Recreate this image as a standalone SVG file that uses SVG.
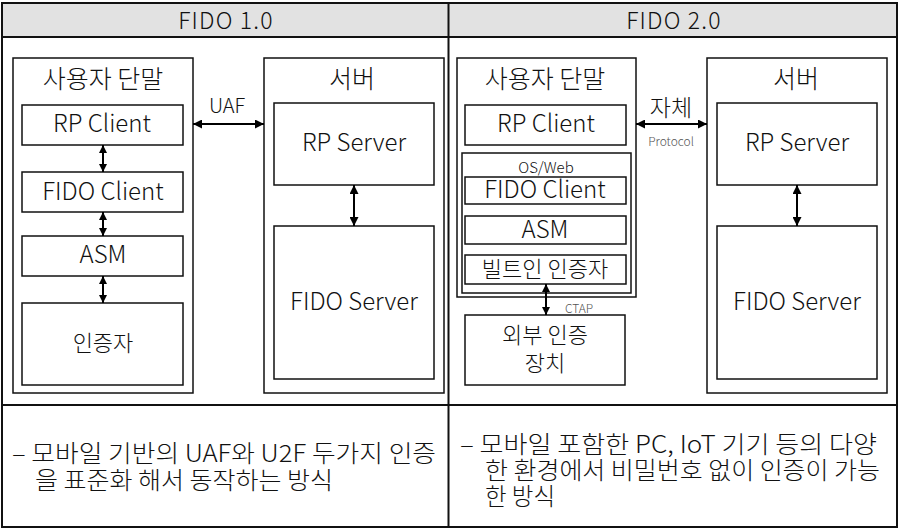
<svg xmlns="http://www.w3.org/2000/svg" width="902" height="530" viewBox="0 0 902 530">
<style>
text{font-family:"Noto Sans CJK KR","Noto Sans",sans-serif;font-weight:300;fill:#111;}
.c{text-anchor:middle;}
.t{font-size:25px;}
.l{font-size:22px;}
.e{font-size:24px;}
.h{font-size:23px;letter-spacing:1.2px;}
.s{font-size:12px;fill:#555;}
.b{font-size:24px;}
.tbl{fill:none;stroke:#111;stroke-width:2;}
.box{fill:#fff;stroke:#111;stroke-width:1.5;}
.ar{stroke:#000;stroke-width:2;fill:none;marker-start:url(#ah);marker-end:url(#ah);}
.ars{stroke:#000;stroke-width:2;fill:none;marker-start:url(#ahs);marker-end:url(#ahs);}
</style>
<defs>
<marker id="ah" viewBox="0 0 10 10" refX="10" refY="5" markerUnits="userSpaceOnUse" markerWidth="10" markerHeight="9" orient="auto-start-reverse"><path d="M0,0 L10,5 L0,10 z" fill="#000"/></marker>
<marker id="ahs" viewBox="0 0 10 10" refX="10" refY="5" markerUnits="userSpaceOnUse" markerWidth="8" markerHeight="8" orient="auto-start-reverse"><path d="M0,0 L10,5 L0,10 z" fill="#000"/></marker>
</defs>
<rect x="0" y="0" width="902" height="530" fill="#fff"/>
<g id="table">
<rect x="2" y="3" width="895" height="34" fill="#e2e2e2"/>
<rect class="tbl" x="2" y="3" width="895" height="524"/>
<line class="tbl" x1="2" y1="37" x2="897" y2="37"/>
<line class="tbl" x1="2" y1="405" x2="897" y2="405"/>
<line class="tbl" x1="448.5" y1="3" x2="448.5" y2="527"/>
<text class="h c" x="226" y="29">FIDO 1.0</text>
<text class="h c" x="674" y="29">FIDO 2.0</text>
</g>
<g id="fido1-device">
<rect class="box" x="13" y="58" width="180" height="335"/>
<text class="t c" x="103" y="88">사용자 단말</text>
</g>
<g id="fido1-rp-client"><rect class="box" x="22" y="105" width="161" height="40"/><text class="e c" x="102" y="132">RP Client</text></g>
<g id="fido1-fido-client"><rect class="box" x="22" y="172" width="161" height="40"/><text class="e c" x="103" y="200">FIDO Client</text></g>
<g id="fido1-asm"><rect class="box" x="22" y="236" width="161" height="40"/><text class="e c" x="103" y="263">ASM</text></g>
<g id="fido1-authenticator"><rect class="box" x="22" y="303" width="161" height="82"/><text class="l c" x="103" y="351">인증자</text></g>
<g id="fido1-server">
<rect class="box" x="264" y="58" width="180" height="335"/>
<text class="t c" x="352" y="88">서버</text>
</g>
<g id="fido1-rp-server"><rect class="box" x="274" y="103" width="160" height="82"/><text class="e c" x="354" y="151">RP Server</text></g>
<g id="fido1-fido-server"><rect class="box" x="274" y="226" width="160" height="153"/><text class="e c" x="354" y="310">FIDO Server</text></g>

<g id="fido2-device">
<rect class="box" x="457" y="58" width="179" height="239"/>
<text class="t c" x="545" y="88">사용자 단말</text>
</g>
<g id="fido2-rp-client"><rect class="box" x="465" y="105" width="161" height="40"/><text class="e c" x="546" y="132">RP Client</text></g>
<g id="fido2-osweb">
<rect class="box" x="462" y="153" width="169" height="140"/>
<text class="c" x="546" y="173" font-size="15">OS/Web</text>
</g>
<g id="fido2-fido-client"><rect class="box" x="465" y="177" width="161" height="27"/><text class="e c" x="545" y="198">FIDO Client</text></g>
<g id="fido2-asm"><rect class="box" x="465" y="216" width="161" height="28"/><text class="e c" x="545" y="238">ASM</text></g>
<g id="fido2-builtin"><rect class="box" x="465" y="255" width="161" height="29"/><text class="l c" x="545" y="277">빌트인 인증자</text></g>
<g id="fido2-external"><rect class="box" x="465" y="315" width="160" height="70"/><text class="l c" x="545" y="343">외부 인증</text><text class="l c" x="545" y="371">장치</text></g>
<g id="fido2-server">
<rect class="box" x="707" y="58" width="180" height="335"/>
<text class="t c" x="796" y="88">서버</text>
</g>
<g id="fido2-rp-server"><rect class="box" x="717" y="103" width="160" height="82"/><text class="e c" x="797" y="151">RP Server</text></g>
<g id="fido2-fido-server"><rect class="box" x="717" y="226" width="160" height="153"/><text class="e c" x="797" y="310">FIDO Server</text></g>

<g id="connectors">
<line class="ars" x1="103" y1="145" x2="103" y2="172"/>
<line class="ars" x1="103" y1="212" x2="103" y2="236"/>
<line class="ars" x1="103" y1="276" x2="103" y2="303"/>
<line class="ar" x1="193" y1="124" x2="264" y2="124"/>
<text class="c" x="227" y="113" font-size="20">UAF</text>
<line class="ar" x1="354" y1="185" x2="354" y2="226"/>
<line class="ar" x1="636" y1="124" x2="707" y2="124"/>
<text class="c" x="671" y="116" font-size="23">자체</text>
<text class="s c" x="671" y="146">Protocol</text>
<line class="ar" x1="797" y1="185" x2="797" y2="226"/>
<line class="ars" x1="546" y1="284" x2="546" y2="315"/>
<text class="s" x="565" y="313" font-size="13">CTAP</text>
</g>

<g id="desc">
<text class="b"><tspan x="12" y="462" textLength="424" lengthAdjust="spacingAndGlyphs">– 모바일 기반의 UAF와 U2F 두가지 인증</tspan><tspan x="35" y="489" textLength="298" lengthAdjust="spacingAndGlyphs">을 표준화 해서 동작하는 방식</tspan></text>
<text class="b"><tspan x="460" y="453" textLength="417" lengthAdjust="spacingAndGlyphs">– 모바일 포함한 PC, IoT 기기 등의 다양</tspan><tspan x="485" y="479" textLength="395" lengthAdjust="spacingAndGlyphs">한 환경에서 비밀번호 없이 인증이 가능</tspan><tspan x="485" y="505" textLength="70" lengthAdjust="spacingAndGlyphs">한 방식</tspan></text>
</g>
</svg>
